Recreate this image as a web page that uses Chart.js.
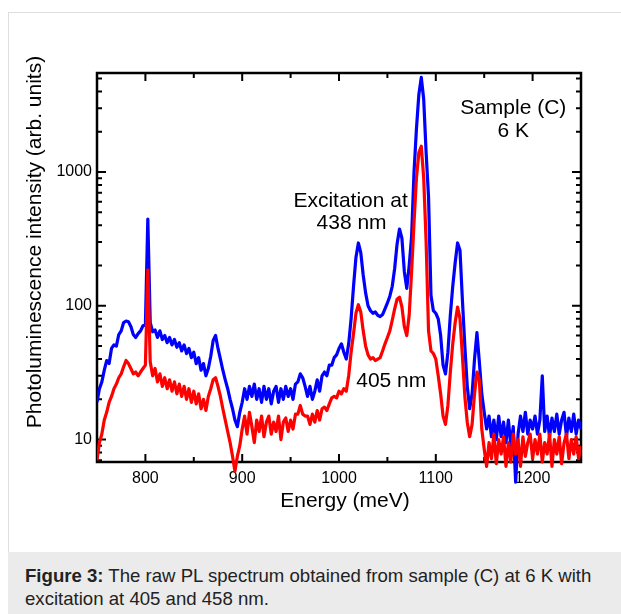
<!DOCTYPE html>
<html>
<head>
<meta charset="utf-8">
<script src="https://cdn.jsdelivr.net/npm/chart.js@4.4.1/dist/chart.umd.min.js"></script>
<style>
  html, body { margin: 0; padding: 0; background: #fff; }
  body { width: 621px; height: 614px; position: relative; overflow: hidden; font-family: "Liberation Sans", Arial, sans-serif; }
  .frame { position: absolute; left: 8px; top: 12px; width: 640px; height: 700px; border-left: 1px solid #dedede; border-top: 1px solid #dedede; }
  #chart { position: absolute; left: 0; top: 0; }
  .caption { position: absolute; left: 8px; top: 552px; width: 613px; height: 62px; background: #ebebeb; box-sizing: border-box; padding: 12px 10px 0 17px; font-size: 18.6px; line-height: 23px; color: #222; }
  .caption b { font-weight: bold; }
</style>
</head>
<body>
<div class="frame"></div>
<canvas id="chart" width="621" height="551"></canvas>
<div class="caption"><b>Figure 3:</b> The raw PL spectrum obtained from sample (C) at 6 K with excitation at 405 and 458 nm.</div>
<script>
// photon energy (meV)
const energy = [
  750, 752.5, 755, 757.5, 760, 762.5, 765, 767.5, 770, 772.5,
  775, 777.5, 780, 782.5, 785, 787.5, 790, 792.5, 795, 797.5,
  800, 802.5, 805, 807.5, 810, 812.5, 815, 817.5, 820, 822.5,
  825, 827.5, 830, 832.5, 835, 837.5, 840, 842.5, 845, 847.5,
  850, 852.5, 855, 857.5, 860, 862.5, 865, 867.5, 870, 872.5,
  875, 877.5, 880, 882.5, 885, 887.5, 890, 892.5, 895, 897.5,
  900, 902.5, 905, 907.5, 910, 912.5, 915, 917.5, 920, 922.5,
  925, 927.5, 930, 932.5, 935, 937.5, 940, 942.5, 945, 947.5,
  950, 952.5, 955, 957.5, 960, 962.5, 965, 967.5, 970, 972.5,
  975, 977.5, 980, 982.5, 985, 987.5, 990, 992.5, 995, 997.5,
  1000, 1002.5, 1005, 1007.5, 1010, 1012.5, 1015, 1017.5, 1020, 1022.5,
  1025, 1027.5, 1030, 1032.5, 1035, 1037.5, 1040, 1042.5, 1045, 1047.5,
  1050, 1052.5, 1055, 1057.5, 1060, 1062.5, 1065, 1067.5, 1070, 1072.5,
  1075, 1077.5, 1080, 1082.5, 1085, 1087.5, 1090, 1092.5, 1095, 1097.5,
  1100, 1102.5, 1105, 1107.5, 1110, 1112.5, 1115, 1117.5, 1120, 1122.5,
  1125, 1127.5, 1130, 1132.5, 1135, 1137.5, 1140, 1142.5, 1145, 1147.5,
  1150, 1152.5, 1155, 1157.5, 1160, 1162.5, 1165, 1167.5, 1170, 1172.5,
  1175, 1177.5, 1180, 1182.5, 1185, 1187.5, 1190, 1192.5, 1195, 1197.5,
  1200, 1202.5, 1205, 1207.5, 1210, 1212.5, 1215, 1217.5, 1220, 1222.5,
  1225, 1227.5, 1230, 1232.5, 1235, 1237.5, 1240, 1242.5, 1245, 1247.5,
  1250
];

// excitation at 438 nm (blue trace)
const pl438 = [
  19, 24, 27, 33, 39, 37, 48, 51, 50, 61,
  65, 75, 77, 76, 70, 61, 58, 62, 65, 71,
  72, 445, 75, 64, 66, 58, 65, 56, 60, 53,
  58, 51, 56, 49, 53, 46, 51, 44, 48, 41,
  45, 37, 41, 33, 37, 30, 34, 42, 55, 60,
  48, 40, 33, 28, 24, 20, 17, 14, 12.5, 16,
  19, 24, 20, 25, 21, 26, 20, 24, 19, 25,
  20, 24, 18.5, 23, 25, 19, 24, 20, 25, 21,
  24, 20, 26, 27, 31, 29, 25, 21, 25, 20,
  23, 28, 23, 30, 32, 30, 36, 36, 41, 43,
  48, 52, 45, 40, 52, 80, 140, 230, 295, 250,
  170, 125, 100, 92, 88, 90, 85, 83, 86, 95,
  105, 118, 140, 190, 290, 375, 320, 180, 135, 200,
  330, 1000, 2100, 3800, 5100, 3500, 1400, 650, 120, 92,
  88, 80, 60, 36, 31, 45, 85, 140, 210, 295,
  260, 110, 50, 25, 17, 22, 40, 63, 38, 22,
  16, 12, 15, 10.5, 14, 10, 15, 10.5, 13.5, 9.5,
  14, 9, 12.5, 4.8, 11, 15, 11.5, 16, 11, 14,
  12, 15, 11, 14, 30, 11.5, 15, 10.5, 14.5, 11.5,
  15.5, 11, 14, 16, 10.5, 14.5, 11.5, 15.5, 11, 14,
  12
];

// excitation at 405 nm (red trace)
const pl405 = [
  7, 9.5, 11, 14, 16, 19, 21, 24, 26, 29,
  31, 35, 39, 37, 34, 31, 32, 30, 32, 34,
  36, 186, 38, 30, 34, 27, 31, 25, 29, 24,
  28, 23, 27, 22, 26, 21, 25, 20, 24, 19,
  23, 18.5, 22, 17, 20, 16.5, 21, 24, 28, 29,
  25, 21, 17, 14, 11.5, 9.5, 7.5, 5.8, 7.5, 9,
  12, 15, 11, 16, 12.5, 9.5, 14, 11.5, 15, 10.5,
  13.5, 15, 11, 13.5, 11.5, 15, 10, 13.5, 14.5, 11.5,
  14, 12, 15.5, 15.5, 18, 15.5, 15, 15, 13, 15.5,
  13.5, 16.5, 14, 17, 17.5, 16.5, 18.5, 20.5, 21, 20.5,
  23, 22, 24, 23, 30, 45, 62, 88, 102, 90,
  65, 50, 43, 40, 41, 39, 40, 41, 46, 52,
  58, 65, 78, 95, 112, 116, 98, 70, 60, 85,
  180, 420, 900, 1400, 1560, 900, 300, 65, 46, 44,
  40, 30, 22, 15, 13, 18, 32, 52, 75, 98,
  80, 42, 21, 13.5, 10.5, 13, 22, 32, 28, 12,
  8.5, 6.3, 9.5, 7.2, 11, 6.6, 10, 7.8, 10.5, 6.3,
  9.5, 6.8, 11, 7.8, 10, 6.3, 10.5, 7.5, 9.5, 11,
  7.2, 10, 7.8, 11, 6.8, 9.5, 7.8, 11, 6.3, 10,
  7.8, 10.5, 6.6, 9.5, 11, 7.2, 10, 7.8, 10.5, 7.2,
  9
];

const xMajorTicks = [800, 900, 1000, 1100, 1200];
const xMinorTicks = [850, 950, 1050, 1150];
const yMajorTicks = [10, 100, 1000];
const yMinorTicks = [7, 8, 9, 20, 30, 40, 50, 60, 70, 80, 90,
  200, 300, 400, 500, 600, 700, 800, 900, 2000, 3000, 4000, 5000];

// text placed in data coordinates (meV, intensity at baseline)
const noteTexts = ["Sample (C)", "6 K", "Excitation at", "438 nm", "405 nm"];
const noteX = [1180, 1180, 1012, 1013, 1054];
const noteY = [2700, 1830, 545, 376, 24.7];

const FONT = '"Liberation Sans", Arial, sans-serif';
Chart.defaults.font.family = FONT;
Chart.defaults.color = "#000";

const axesFrame = {
  id: "axesFrame",
  beforeDatasetsDraw(chart) {
    const { ctx, chartArea: a, scales: { x, y } } = chart;
    ctx.save();
    ctx.strokeStyle = "#000";
    ctx.lineWidth = 2;
    ctx.beginPath();
    const xt = (list, len) => list.forEach((v) => {
      const px = x.getPixelForValue(v);
      ctx.moveTo(px, a.bottom); ctx.lineTo(px, a.bottom - len);
      ctx.moveTo(px, a.top); ctx.lineTo(px, a.top + len);
    });
    const yt = (list, len) => list.forEach((v) => {
      const py = y.getPixelForValue(v);
      ctx.moveTo(a.left, py); ctx.lineTo(a.left + len, py);
      ctx.moveTo(a.right, py); ctx.lineTo(a.right - len, py);
    });
    xt(xMajorTicks, 8);
    xt(xMinorTicks, 5);
    yt(yMajorTicks, 9);
    yt(yMinorTicks, 5);
    ctx.stroke();
    ctx.lineWidth = 2.5;
    ctx.strokeRect(a.left, a.top, a.right - a.left, a.bottom - a.top);
    ctx.restore();
  },
  afterDraw(chart) {
    const { ctx, chartArea: a, scales: { x, y } } = chart;
    ctx.save();
    ctx.fillStyle = "#000";
    ctx.font = "21px " + FONT;
    ctx.textAlign = "center";
    ctx.textBaseline = "alphabetic";
    noteTexts.forEach((t, i) => {
      ctx.fillText(t, x.getPixelForValue(noteX[i]), y.getPixelForValue(noteY[i]));
    });
    // axis titles
    ctx.fillText("Energy (meV)", (a.left + a.right) / 2 + 6, 507);
    ctx.translate(35, 242);
    ctx.rotate(-Math.PI / 2);
    ctx.textBaseline = "middle";
    ctx.fillText("Photoluminescence intensity (arb. units)", 0, 0);
    ctx.restore();
  }
};

const isDecade = (v) => Math.abs(Math.log10(v) - Math.round(Math.log10(v))) < 1e-9;

new Chart(document.getElementById("chart"), {
  type: "line",
  data: {
    labels: energy,
    datasets: [
      {
        label: "438 nm",
        data: pl438,
        borderColor: "#0000ff",
        borderWidth: 3.2,
        borderJoinStyle: "round",
        pointRadius: 0,
        tension: 0,
        order: 2,
        clip: { left: 0, top: 0, right: 0, bottom: 30 }
      },
      {
        label: "405 nm",
        data: pl405,
        borderColor: "#ff0000",
        borderWidth: 3.2,
        borderJoinStyle: "round",
        pointRadius: 0,
        tension: 0,
        order: 1,
        clip: { left: 0, top: 0, right: 0, bottom: 30 }
      }
    ]
  },
  options: {
    responsive: false,
    animation: false,
    devicePixelRatio: 1,
    layout: { padding: { left: 0, right: 40, top: 73, bottom: 0 } },
    plugins: { legend: { display: false }, tooltip: { enabled: false } },
    scales: {
      x: {
        type: "linear",
        min: 750,
        max: 1250,
        grid: { display: false, drawTicks: false },
        border: { display: false },
        ticks: {
          stepSize: 50,
          autoSkip: false,
          maxRotation: 0,
          padding: 7,
          font: { size: 16 },
          callback: (v) => (v % 100 === 0 ? String(v) : "")
        },
        afterFit: (s) => { s.height = 89; }
      },
      y: {
        type: "logarithmic",
        min: 6.8,
        max: 5500,
        grid: { display: false, drawTicks: false },
        border: { display: false },
        ticks: {
          autoSkip: false,
          padding: 5,
          font: { size: 16 },
          callback: (v) => (isDecade(v) ? String(Math.round(v)) : "")
        },
        afterFit: (s) => { s.width = 97; }
      }
    }
  },
  plugins: [axesFrame]
});
</script>
</body>
</html>
